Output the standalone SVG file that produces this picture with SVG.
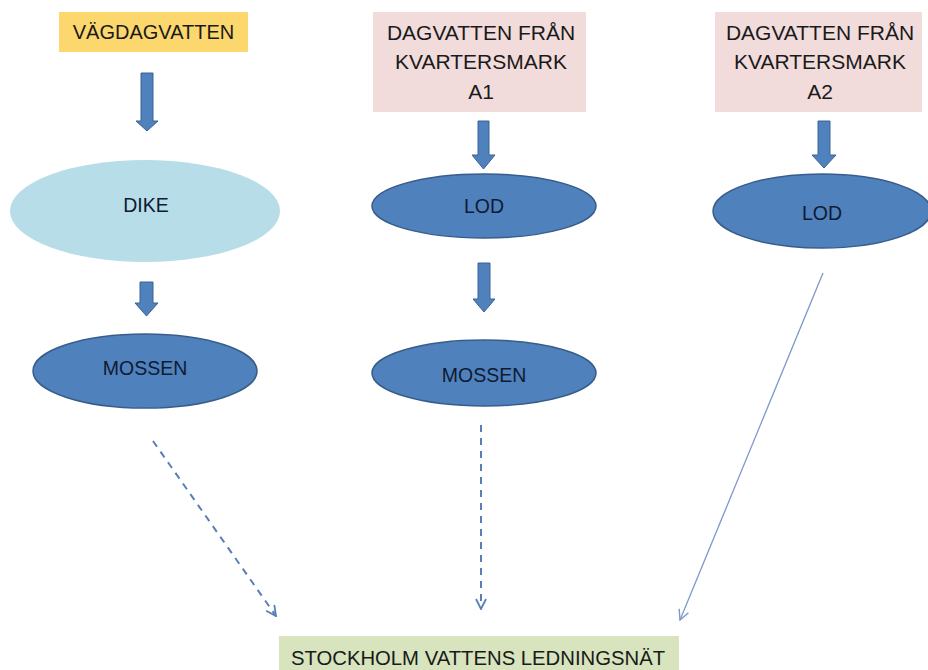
<svg xmlns="http://www.w3.org/2000/svg" width="928" height="670" viewBox="0 0 928 670">
<style>
text{font-family:"Liberation Sans",Arial,sans-serif;fill:#1a1a1a;text-anchor:middle}
.t{font-size:21px}
.e{font-size:19.5px;fill:#0f1a33}
.blk{fill:#4f81bd;stroke:#3a6294;stroke-width:1}
.ell{fill:#4f81bd;stroke:#385d8a;stroke-width:1.5}
.dash{fill:none;stroke:#5a7fb8;stroke-width:2;stroke-dasharray:7 6}
.thin{fill:none;stroke:#7d98c9;stroke-width:1.3}
</style>
<defs>
<marker id="open" viewBox="0 0 12 12" refX="11" refY="6" markerWidth="12" markerHeight="12" markerUnits="userSpaceOnUse" orient="auto">
<path d="M1,1 L11,6 L1,11" fill="none" stroke="#5a7fb8" stroke-width="1.8"/>
</marker>
<marker id="open2" viewBox="0 0 12 12" refX="11" refY="6" markerWidth="12" markerHeight="12" markerUnits="userSpaceOnUse" orient="auto">
<path d="M1,1 L11,6 L1,11" fill="none" stroke="#7d98c9" stroke-width="1.4"/>
</marker>
</defs>
<rect width="928" height="670" fill="#ffffff"/>
<g id="vagdagvatten">
<rect x="59" y="12" width="189" height="40" fill="#fcd76e"/>
<text x="153.5" y="39" style="font-size:20px">VÄGDAGVATTEN</text>
</g>
<g id="a1">
<rect x="373" y="12" width="213" height="100" fill="#f2dcdb"/>
<text class="t" x="481" y="40">DAGVATTEN FRÅN</text>
<text class="t" x="481" y="69">KVARTERSMARK</text>
<text class="t" x="481" y="99">A1</text>
</g>
<g id="a2">
<rect x="715" y="12" width="207" height="100" fill="#f2dcdb"/>
<text class="t" x="820" y="40">DAGVATTEN FRÅN</text>
<text class="t" x="820" y="69">KVARTERSMARK</text>
<text class="t" x="820" y="99">A2</text>
</g>
<g id="dike">
<ellipse cx="145" cy="211" rx="135" ry="51" fill="#b7dde8"/>
<text class="e" x="146" y="212">DIKE</text>
</g>
<g id="mossen1">
<ellipse class="ell" cx="145" cy="371" rx="112" ry="37"/>
<text class="e" x="145" y="375">MOSSEN</text>
</g>
<g id="lod1">
<ellipse class="ell" cx="484" cy="206" rx="112" ry="32"/>
<text class="e" x="484" y="213">LOD</text>
</g>
<g id="mossen2">
<ellipse class="ell" cx="484" cy="373" rx="112" ry="33"/>
<text class="e" x="484" y="382">MOSSEN</text>
</g>
<g id="lod2">
<ellipse class="ell" cx="822" cy="211" rx="109" ry="37"/>
<text class="e" x="822" y="220">LOD</text>
</g>
<g id="stockholm">
<rect x="279" y="636" width="400" height="40" fill="#d7e4bd"/>
<text x="478" y="665" style="font-size:20.3px">STOCKHOLM VATTENS LEDNINGSNÄT</text>
</g>
<g id="connectors">
<path class="blk" d="M141,73 H153 V121 H158 L147,131 L136,121 H141 Z"/>
<path class="blk" d="M140,282 H153 V303 H158 L146.5,316 L135,303 H140 Z"/>
<path class="blk" d="M478,121 H489 V155 H495 L483.5,169 L472,155 H478 Z"/>
<path class="blk" d="M478,263 H490 V299 H495 L484,312 L473,299 H478 Z"/>
<path class="blk" d="M818,121 H830 V155 H836 L824,168 L812,155 H818 Z"/>
<line class="dash" x1="153" y1="441" x2="276" y2="616" marker-end="url(#open)"/>
<line class="dash" x1="481" y1="425" x2="481" y2="609" marker-end="url(#open)"/>
<line class="thin" x1="823" y1="273" x2="680" y2="620" marker-end="url(#open2)"/>
</g>
</svg>
